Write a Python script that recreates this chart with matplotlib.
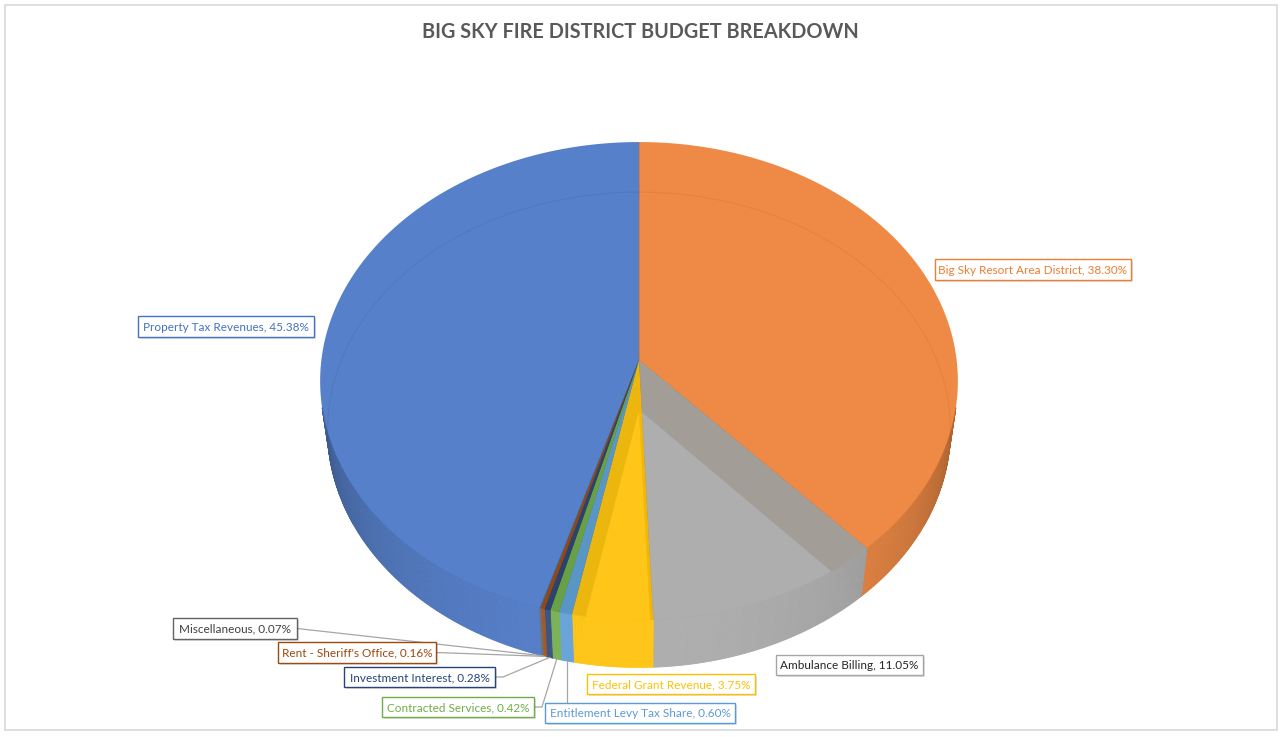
import numpy as np
import matplotlib
matplotlib.use("Agg")
import matplotlib.pyplot as plt
from matplotlib.collections import PolyCollection
from matplotlib.patches import Rectangle
import matplotlib.patheffects as pe
from matplotlib.colors import to_rgb

# ---------------- data ----------------
categories = ["Property Tax Revenues", "Big Sky Resort Area District", "Ambulance Billing",
              "Federal Grant Revenue", "Entitlement Levy Tax Share", "Contracted Services",
              "Investment Interest", "Rent - Sheriff's Office", "Miscellaneous"]
values = [45.38, 38.30, 11.05, 3.75, 0.60, 0.42, 0.28, 0.16, 0.07]
title = "BIG SKY FIRE DISTRICT BUDGET BREAKDOWN"

# ---------------- style / layout ----------------
colors = ["#4472C4", "#ED7D31", "#A5A5A5", "#FFC000", "#5B9BD5", "#70AD47",
          "#264478", "#9E480E", "#636363"]
text_colors = ["#4472C4", "#ED7D31", "#262626", "#FFC000", "#5B9BD5", "#70AD47",
               "#264478", "#9E480E", "#404040"]
# label boxes (x0, y0, x1, y1) in figure pixels
boxes = [(138, 316, 314, 337), (935, 259, 1131, 280), (776, 655, 923, 675),
         (587, 674, 755, 694), (545, 703, 735, 723), (382, 697, 534, 717),
         (344, 667, 495, 687), (278, 642, 436, 663), (173, 618, 297, 639)]
# leader type: None, 'right', 'right_elbow', 'top'
leaders = [None, None, None, None, "top", "right_elbow", "right_elbow", "right", "right"]

W, H = 1282, 737
FONT = ["Lato", "DejaVu Sans"]

# perspective camera for the 3D pie
CX, CY = 639.0, 360.0
FOC = 2398.0
DIST = 7.55
PHI = np.radians(48.3)
THICK = 0.239
cph, sph = np.cos(PHI), np.sin(PHI)
ALPHA = 0.9


def proj(x, y, z):
    x = np.asarray(x, float); y = np.asarray(y, float); z = np.asarray(z, float)
    depth = cph * y - sph * z + DIST
    up = sph * y + cph * z
    return CX + FOC * x / depth, CY - FOC * up / depth, depth


def lighten(c, k=ALPHA):
    r = np.array(to_rgb(c))
    return k * r + (1 - k)


fig = plt.figure(figsize=(W / 100, H / 100), dpi=100)
ax = fig.add_axes([0, 0, 1, 1])
ax.set_xlim(0, W)
ax.set_ylim(H, 0)
ax.axis("off")

# chart border
ax.add_patch(Rectangle((5, 5), W - 10, H - 12, fill=False, ec="#D9D9D9", lw=1.2, zorder=0))

total = sum(values)
start = 360.0 * (1 - values[0] / total)
spans = []
a = start
for v in values:
    spans.append((a, a + 360.0 * v / total))
    a += 360.0 * v / total

vis_thresh = -1.0 / (DIST * cph)

front_polys, front_cols = [], []
for (a0, a1), col in zip(spans, colors):
    n = max(2, int((a1 - a0) / 0.5) + 2)
    th = np.radians(np.linspace(a0, a1, n))
    base = lighten(col)
    for i in range(n - 1):
        t = th[i:i + 2]
        mid = 0.5 * (t[0] + t[1])
        if np.cos(mid) >= vis_thresh:
            continue
        xs = np.sin(t); ys = np.cos(t)
        tx, ty, _ = proj(xs, ys, [0, 0])
        bx, by, _ = proj(xs, ys, [-THICK, -THICK])
        quad = [(tx[0], ty[0]), (tx[1], ty[1]), (bx[1], by[1]), (bx[0], by[0])]
        tt = np.clip(-np.cos(mid), 0, 1)
        fac = 0.6 + 0.4 * tt ** 0.8
        front_polys.append(quad); front_cols.append(np.clip(base * fac, 0, 1))

# radial walls facing the camera
walls = []
cam = np.array([0.0, -DIST * cph, DIST * sph])
for (a0, a1), col in zip(spans, colors):
    for ang, sign in ((a0, -1), (a1, 1)):
        r = np.radians(ang)
        nrm = sign * np.array([np.cos(r), -np.sin(r), 0.0])
        pm = np.array([0.5 * np.sin(r), 0.5 * np.cos(r), -THICK / 2])
        if np.dot(cam - pm, nrm) > 0:
            xs = [0, np.sin(r), np.sin(r), 0]
            ys = [0, np.cos(r), np.cos(r), 0]
            zs = [0, 0, -THICK, -THICK]
            px, py, d = proj(xs, ys, zs)
            walls.append((d.mean(), list(zip(px, py)), np.clip(lighten(col) * 0.62, 0, 1)))
walls.sort(key=lambda w: -w[0])
if walls:
    ax.add_collection(PolyCollection([w[1] for w in walls], facecolors=[w[2] for w in walls],
                                     edgecolors=[w[2] for w in walls], linewidths=0.4, zorder=2))

ax.add_collection(PolyCollection(front_polys, facecolors=front_cols, edgecolors=front_cols,
                                 linewidths=0.6, zorder=3))

# top faces
for (a0, a1), col in zip(spans, colors):
    n = max(3, int((a1 - a0) / 0.5) + 2)
    th = np.radians(np.linspace(a0, a1, n))
    px, py, _ = proj(np.sin(th), np.cos(th), np.zeros(n))
    poly = [(CX, CY)] + list(zip(px, py))
    ax.add_collection(PolyCollection([poly], facecolors=[to_rgb(col)], alpha=ALPHA,
                                     edgecolors="none", zorder=4))

# faint rim of the bottom seen through the top
thr = np.radians(np.linspace(0, 360, 361))
rx, ry, _ = proj(np.sin(thr), np.cos(thr), -THICK * np.ones_like(thr))
mask = np.cos(thr) > vis_thresh + 0.05
rxm = np.where(mask, rx, np.nan); rym = np.where(mask, ry, np.nan)
ax.plot(rxm, rym, color="black", alpha=0.05, lw=0.8, zorder=5)

# labels
for i, (cat, v) in enumerate(zip(categories, values)):
    x0, y0, x1, y1 = boxes[i]
    rect = Rectangle((x0, y0), x1 - x0, y1 - y0, fc="white", ec=colors[i] if i != 2 else "#A5A5A5",
                     lw=1.0, zorder=7)
    rect.set_path_effects([pe.SimplePatchShadow(offset=(1.5, -1.5), shadow_rgbFace="#000000", alpha=0.12),
                           pe.Normal()])
    ax.add_patch(rect)
    ax.text((x0 + x1) / 2, (y0 + y1) / 2 + 0.5, f"{cat}, {v:.2f}%", ha="center", va="center",
            fontsize=8.5, color=text_colors[i], family=FONT, zorder=8)
    kind = leaders[i]
    if kind is None:
        continue
    a0, a1 = spans[i]
    m = np.radians(0.5 * (a0 + a1))
    axp, ayp, _ = proj(np.sin(m), np.cos(m), -THICK)
    axp = float(axp); ayp = float(ayp)
    ym = (y0 + y1) / 2
    if kind == "right":
        pts = [(x1, ym), (axp, ayp)]
    elif kind == "right_elbow":
        pts = [(x1, ym), (x1 + 8, ym), (axp, ayp)]
    else:
        pts = [(axp, y0), (axp, ayp)]
    ax.plot([p[0] for p in pts], [p[1] for p in pts], color="#A6A6A6", lw=0.9, zorder=6)

ax.text(640, 32, title, ha="center", va="center", fontsize=14.3, fontweight="bold",
        color="#595959", family=FONT, zorder=8)

fig.savefig("out.png", dpi=100)
